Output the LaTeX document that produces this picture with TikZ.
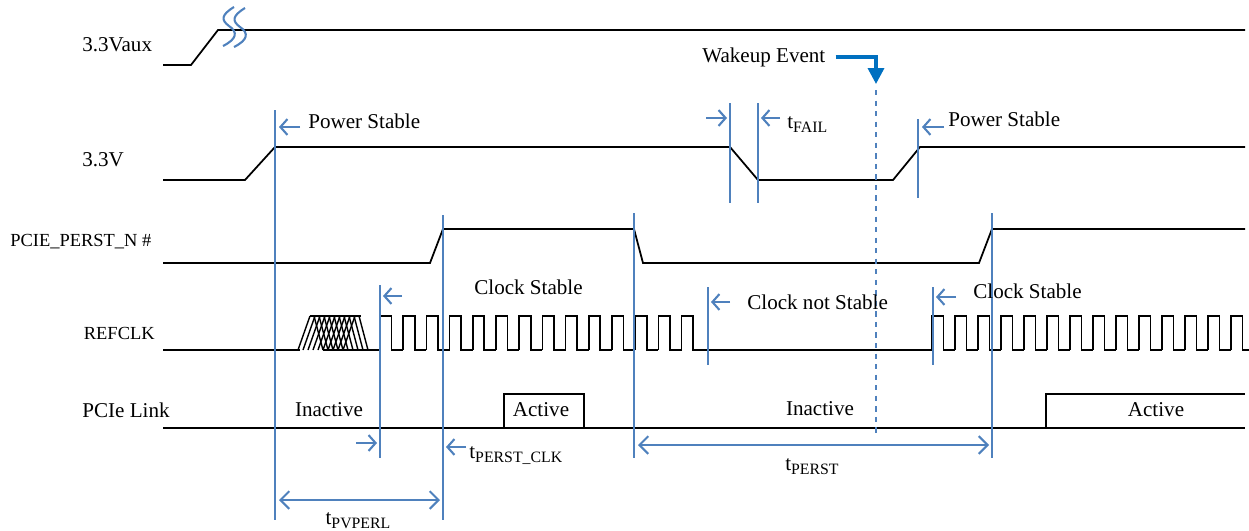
\documentclass[tikz,border=0pt]{standalone}
\usepackage{fontspec}
\setmainfont{Liberation Serif}
\usetikzlibrary{arrows.meta}
\definecolor{mline}{RGB}{79,129,189}
\definecolor{wake}{RGB}{0,112,192}
\newcommand{\tsub}[1]{t\raisebox{-0.5ex}{\fontsize{9}{10}\selectfont #1}}
\tikzset{
  sig/.style={black, line width=1pt},
  vline/.style={mline, line width=1pt},
  ptr/.style={mline, line width=1.2pt, -{Straight Barb[length=4pt,width=9pt]}},
  dim/.style={mline, line width=1.2pt, {Straight Barb[length=5pt,width=10pt]}-{Straight Barb[length=5pt,width=10pt]}},
  lbl/.style={inner sep=0pt, font=\fontsize{12}{14}\selectfont},
  small lbl/.style={inner sep=0pt, font=\fontsize{10.5}{12}\selectfont},
}

\begin{document}
\begin{tikzpicture}[x=0.02cm, y=-0.02cm]
\useasboundingbox (0,0) rectangle (1249,531);

\node[lbl, anchor=west] (vaux) at (82,45) {3.3Vaux};
\node[lbl, anchor=west] (vmain) at (82,160) {3.3V};
\node[small lbl, anchor=west] (perst) at (10,242) {PCIE\_PERST\_N \#};
\node[small lbl, anchor=east] (refclk) at (155,333) {REFCLK};
\node[lbl, anchor=west] (link) at (82,410) {PCIe Link};

\draw[sig] (163,65) -- (191,65) -- (218,30) -- (1245,30);
\draw[mline, line width=1.2pt] (234,7) .. controls (221,15) and (221,20) .. (229,26) .. controls (238,32) and (237,39) .. (223,46);
\draw[mline, line width=1.2pt] (245,8) .. controls (232,16) and (232,21) .. (240,27) .. controls (249,33) and (248,40) .. (234,47);

\draw[sig] (163,180) -- (245,180) -- (275,147) -- (730,147) -- (758,180) -- (893,180) -- (920,147) -- (1245,147);
\draw[sig] (163,263) -- (430,263) -- (443,229) -- (634,229) -- (643,263) -- (979,263) -- (992,229) -- (1245,229);

\draw[sig] (163,350) -- (300,350);
\foreach \k in {0,...,9} {
  \draw[black, line width=0.8pt] ({298+5*\k},350) -- ({310+5*\k},316);
  \draw[black, line width=0.8pt] ({314+5*\k},316) -- ({323+5*\k},350);
}
\draw[black, line width=0.8pt] (310,316) -- (361,316);
\draw[sig] (323,350) -- (380,350);
\foreach \i in {0,...,13}
  \draw[sig] ({380+23.2*\i},350) -- ++(0,-34) -- ++(11.5,0) -- ++(0,34) -- ++(11.7,0);
\draw[sig] (704,350) -- (932,350);
\foreach \i in {0,...,13}
  \draw[sig] ({932+23*\i},350) -- ++(0,-34) -- ++(11.5,0) -- ++(0,34) -- ++(11.5,0);

\draw[sig] (163,428) -- (1245,428);
\draw[sig] (504,428) |- (584,394) -- (584,428);
\draw[sig] (1046,428) |- (1245,394);

\draw[vline] (275,110) -- (275,520);
\draw[vline] (380,285) -- (380,458);
\draw[vline] (443,215) -- (443,520);
\draw[vline] (634,213) -- (634,458);
\draw[vline] (730,103) -- (730,203);
\draw[vline] (758,103) -- (758,203);
\draw[vline] (918,119) -- (918,198);
\draw[vline] (708,287) -- (708,365);
\draw[vline] (933,287) -- (933,365);
\draw[vline] (992,213) -- (992,458);

\node[lbl, anchor=west] (wk) at (702,57) {Wakeup Event};
\coordinate (wkend) at (876,84);
\draw[wake, line width=2pt, -{Triangle[length=9pt,width=9pt]}] (wk.east) ++(10,0) -| (wkend);
\draw[mline, dashed, line width=0.8pt] (876,90) -- (876,437);

\node[lbl, anchor=west] (ps1) at (308,121) {Power Stable};
\draw[ptr] (ps1.west) ++(-8,6) -- ++(-21,0);
\node[lbl, anchor=base west] (tfail) at (787,128) {\tsub{FAIL}};
\draw[ptr] (706,118) -- (727,118);
\draw[ptr] (780,118) -- (761,118);
\node[lbl, anchor=west] (ps2) at (948,119) {Power Stable};
\draw[ptr] (944,127) -- (922,127);

\node[lbl, anchor=west] (cs1) at (474,287) {Clock Stable};
\draw[ptr] (402,296) -- (383,296);
\node[lbl, anchor=west] (cns) at (747,302) {Clock not Stable};
\draw[ptr] (730,302) -- (711,302);
\node[lbl, anchor=west] (cs2) at (973,291) {Clock Stable};
\draw[ptr] (956,297) -- (936,297);

\node[lbl] (in1) at (329,410) {Inactive};
\node[lbl] (ac1) at (541,410) {Active};
\node[lbl, fill=white, inner sep=1pt] (in2) at (820,409) {Inactive};
\node[lbl] (ac2) at (1156,410) {Active};

\draw[ptr] (356,443) -- (377,443);
\draw[ptr] (466,447) -- (446,447);
\node[lbl, anchor=base west] (tpc) at (469,458) {\tsub{PERST\_CLK}};

\coordinate (pvA) at (279,500);
\coordinate (pvB) at (440,500);
\draw[dim] (pvA) -- (pvB);
\node[lbl, anchor=base] (tpv) at (358,524) {\tsub{PVPERL}};

\coordinate (peA) at (638,445);
\coordinate (peB) at (989,445);
\draw[dim] (peA) -- (peB);
\node[lbl, anchor=base] (tpe) at (812,470) {\tsub{PERST}};
\end{tikzpicture}
\end{document}
